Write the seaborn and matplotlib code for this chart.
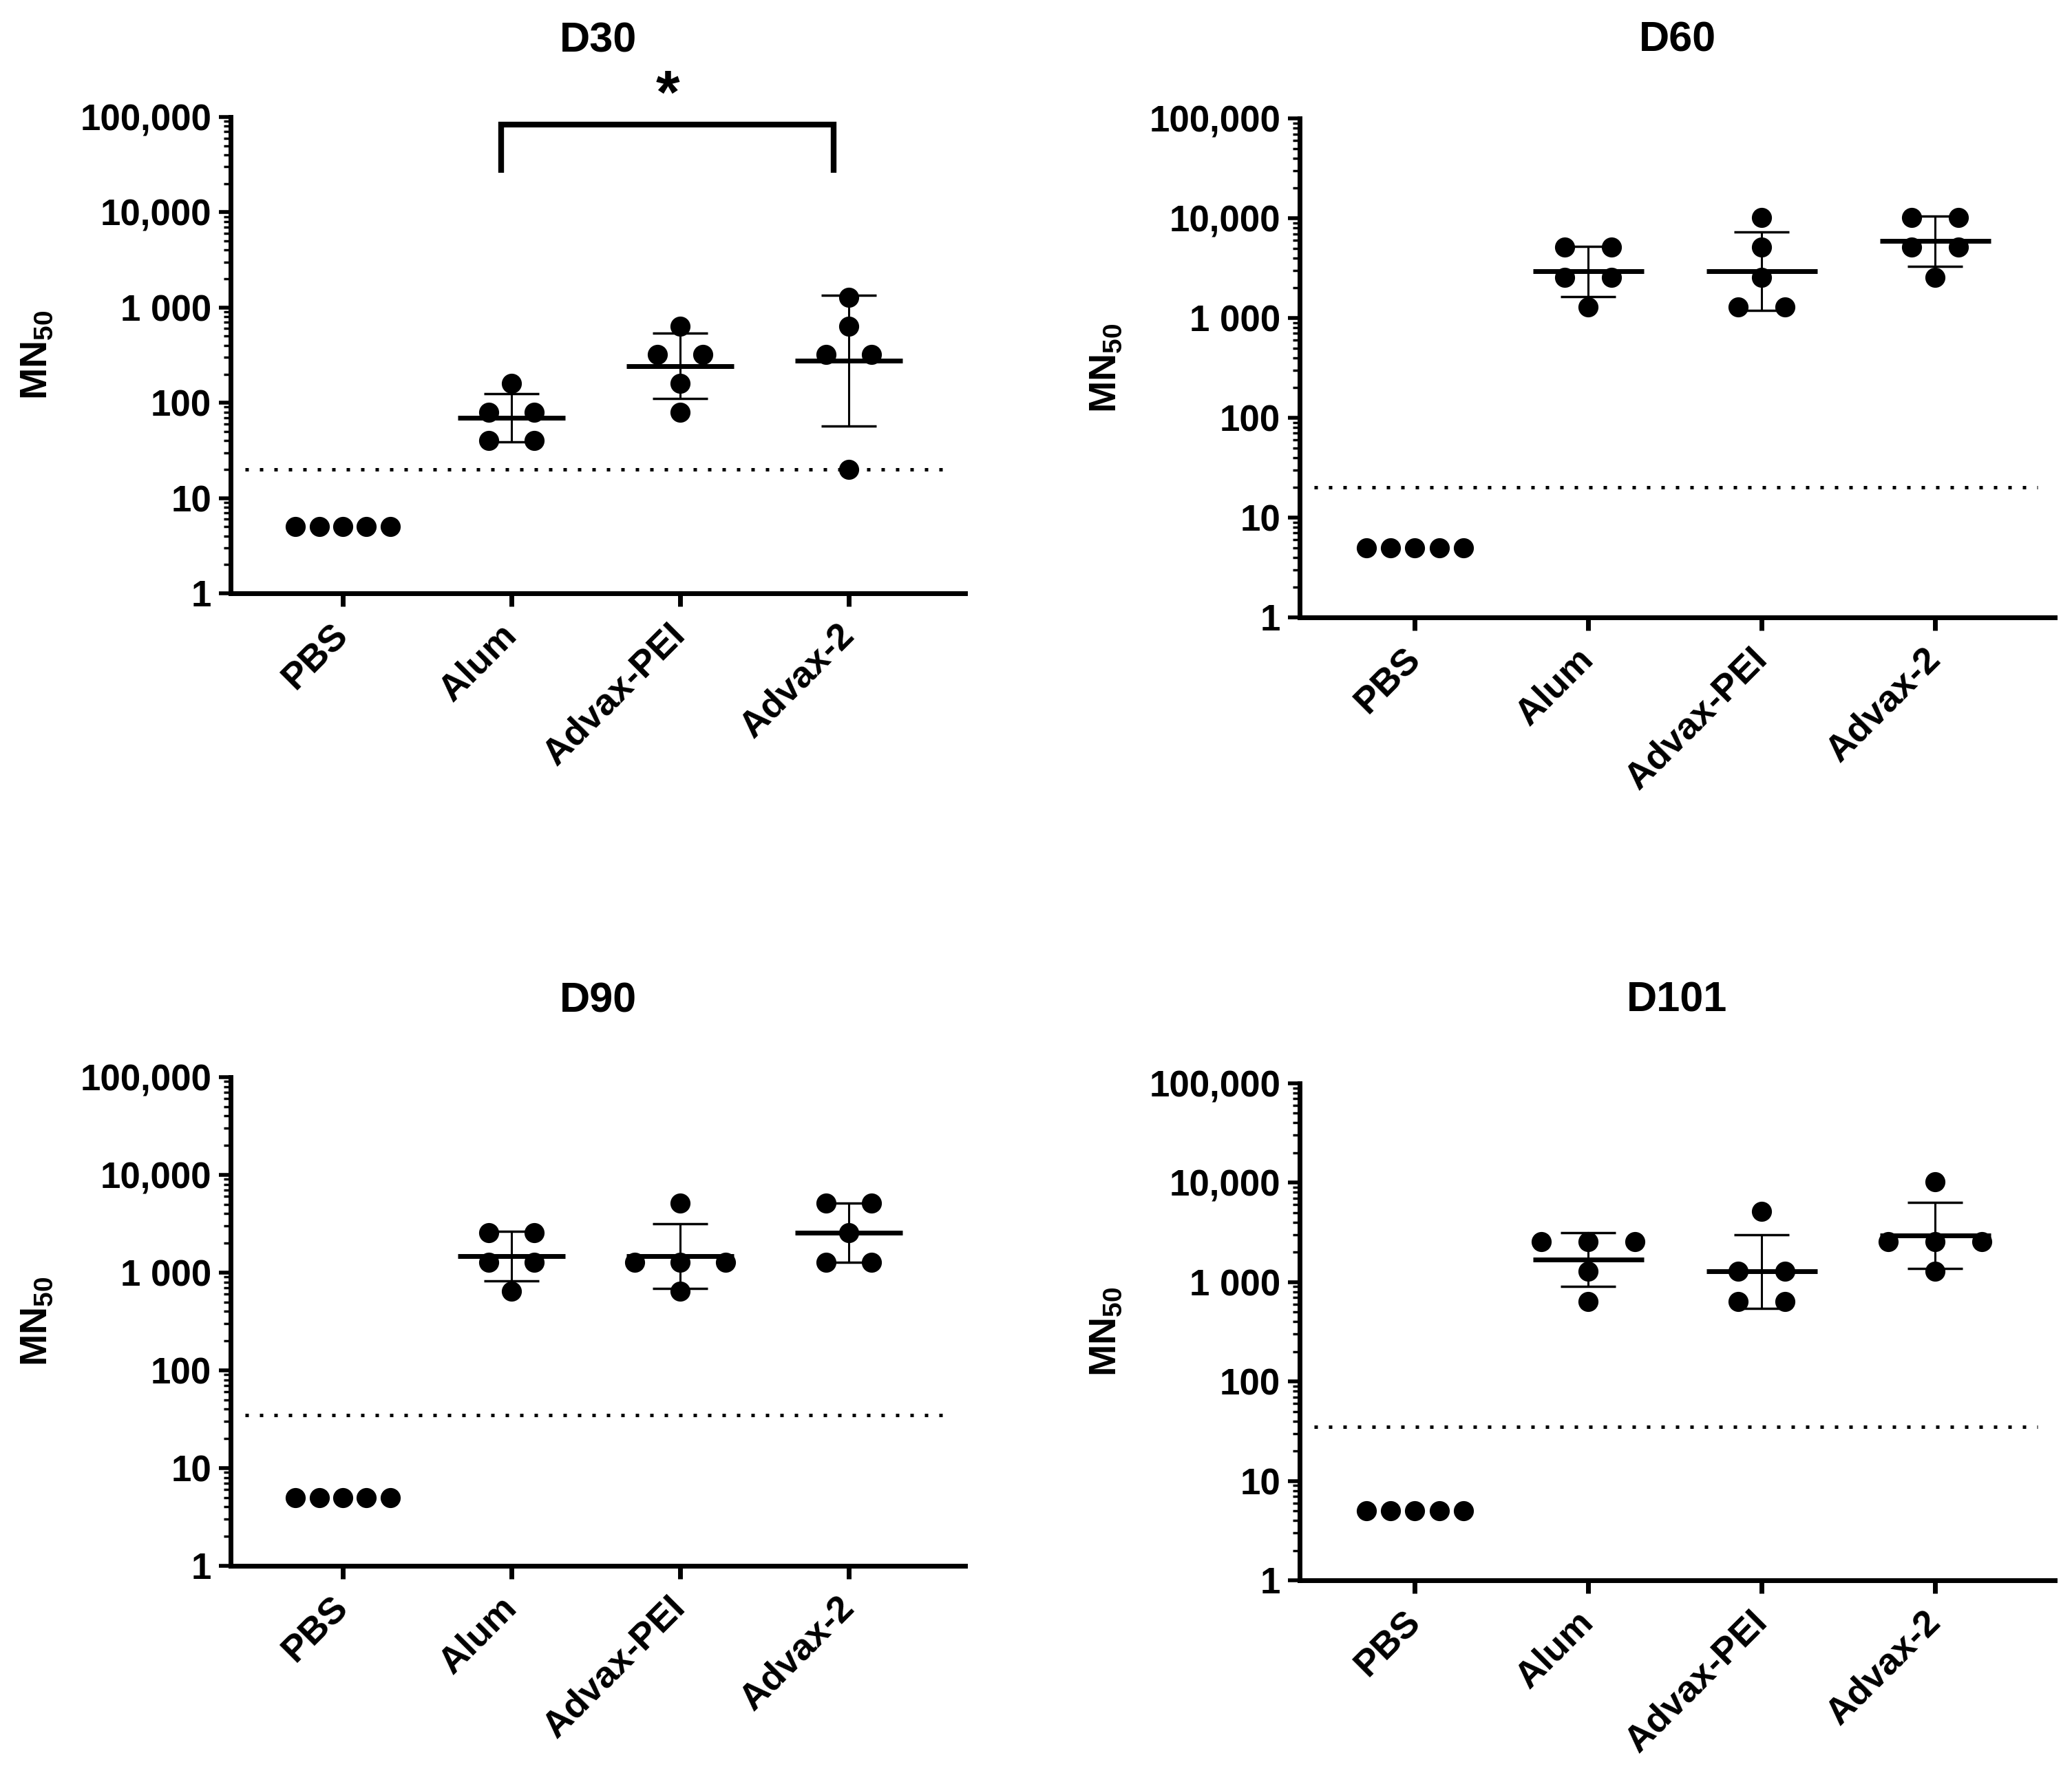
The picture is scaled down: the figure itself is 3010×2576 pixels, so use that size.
import numpy as np
import pandas as pd
import matplotlib.pyplot as plt
import seaborn as sns
from matplotlib.ticker import LogLocator, NullFormatter

# MN50 titres per mouse (2-fold dilution steps, 5 = below detection)
groups = ["PBS", "Alum", "Advax-PEI", "Advax-2"]
panel_names = ["D30", "D60", "D90", "D101"]

d30_pbs = [5, 5, 5, 5, 5]
d30_alum = [160, 80, 80, 40, 40]
d30_pei = [640, 320, 320, 160, 80]
d30_adv2 = [1280, 640, 320, 320, 20]

d60_pbs = [5, 5, 5, 5, 5]
d60_alum = [5120, 5120, 2560, 2560, 1280]
d60_pei = [10240, 5120, 2560, 1280, 1280]
d60_adv2 = [10240, 10240, 5120, 5120, 2560]

d90_pbs = [5, 5, 5, 5, 5]
d90_alum = [2560, 2560, 1280, 1280, 640]
d90_pei = [5120, 1280, 1280, 1280, 640]
d90_adv2 = [5120, 5120, 2560, 1280, 1280]

d101_pbs = [5, 5, 5, 5, 5]
d101_alum = [2560, 2560, 2560, 1280, 640]
d101_pei = [5120, 1280, 1280, 640, 640]
d101_adv2 = [10240, 2560, 2560, 2560, 1280]

# limit of detection (dotted line) per panel
lod = [20, 20, 35, 35]

ytick_vals = [1, 10, 100, 1000, 10000, 100000]
ytick_labels = ["1", "10", "100", "1 000", "10,000", "100,000"]

# significance bracket on D30 (Alum vs Advax-2)
sig_text = "*"

panel_data = [
    [d30_pbs, d30_alum, d30_pei, d30_adv2],
    [d60_pbs, d60_alum, d60_pei, d60_adv2],
    [d90_pbs, d90_alum, d90_pei, d90_adv2],
    [d101_pbs, d101_alum, d101_pei, d101_adv2],
]

sns.set_theme(style="ticks")
plt.rcParams["font.family"] = ["Liberation Sans", "DejaVu Sans"]
plt.rcParams["font.weight"] = "bold"
plt.rcParams["mathtext.fontset"] = "custom"
plt.rcParams["mathtext.rm"] = "Liberation Sans"
for key in ["text.color", "axes.labelcolor", "xtick.color", "ytick.color",
            "axes.edgecolor"]:
    plt.rcParams[key] = "black"

W, H = 3010, 2576
fig = plt.figure(figsize=(W / 100, H / 100), dpi=100)

# [left, bottom, width, height] in figure fraction
boxes = [
    [0.1113, 0.6654, 0.4658 - 0.1113, 0.9340 - 0.6654],
    [0.6272, 0.6518, 0.9917 - 0.6272, 0.9332 - 0.6518],
    [0.1113, 0.1169, 0.4658 - 0.1113, 0.3925 - 0.1169],
    [0.6272, 0.1087, 0.9917 - 0.6272, 0.3890 - 0.1087],
]
title_pads = [68, 70, 68, 75]


def spread(vals, step=0.27, width=0.56):
    # GraphPad-like scatter: equal values are laid side by side
    vals = np.asarray(vals, float)
    off = np.zeros(len(vals))
    for v in np.unique(vals):
        idx = np.where(vals == v)[0]
        n = len(idx)
        if n > 1:
            d = min(step, width / (n - 1))
            off[idx] = (np.arange(n) - (n - 1) / 2) * d
    return off


for k, name in enumerate(panel_names):
    ax = fig.add_axes(boxes[k])
    ax.set_yscale("log")

    rows = []
    for i, (g, vals) in enumerate(zip(groups, panel_data[k])):
        xs = i + spread(vals)
        for x, v in zip(xs, vals):
            rows.append({"group": g, "x": x, "value": v})
    df = pd.DataFrame(rows)

    ax.hlines(lod[k], -0.58, 3.59, colors="black", linewidth=3.6,
              linestyles=[(0, (1, 3.2))], zorder=1)

    sns.scatterplot(data=df, x="x", y="value", color="black", s=441,
                    linewidth=0, ax=ax, zorder=3, legend=False)

    # geometric mean +/- geometric SD
    for i, vals in enumerate(panel_data[k]):
        logs = np.log10(vals)
        m = logs.mean()
        sd = logs.std(ddof=1)
        if sd == 0:
            continue
        gm = 10 ** m
        ax.hlines(gm, i - 0.32, i + 0.32, colors="black", linewidth=5, zorder=4)
        ax.errorbar(i, gm, yerr=[[gm - 10 ** (m - sd)], [10 ** (m + sd) - gm]],
                    fmt="none", ecolor="black", elinewidth=2.2, capsize=29,
                    capthick=2.5, zorder=4)

    ax.set_ylim(1, 1e5)
    ax.set_xlim(-0.665, 3.69)
    ax.set_yticks(ytick_vals)
    ax.set_yticklabels(ytick_labels)
    ax.yaxis.set_minor_locator(LogLocator(base=10, subs=np.arange(2, 10)))
    ax.yaxis.set_minor_formatter(NullFormatter())
    ax.set_xticks(range(len(groups)))
    ax.set_xticklabels(groups, rotation=45, ha="right", va="center",
                       rotation_mode="anchor", fontsize=39, fontweight="bold")
    for lab in ax.get_yticklabels():
        lab.set_fontsize(38)
        lab.set_fontweight("bold")

    ax.tick_params(axis="y", which="major", length=12, width=4, pad=8,
                   color="black", labelcolor="black")
    ax.tick_params(axis="y", which="minor", length=7, width=2.5, color="black")
    ax.tick_params(axis="x", which="major", length=14, width=5, pad=24,
                   color="black", labelcolor="black")
    ax.tick_params(axis="x", which="minor", bottom=False)

    sns.despine(ax=ax)
    for sp in ["left", "bottom"]:
        ax.spines[sp].set_linewidth(5)
        ax.spines[sp].set_color("black")

    ax.set_xlabel("")
    ax.set_ylabel(r"MN$_{\mathrm{50}}$", fontsize=40, fontweight="bold",
                  color="black")
    ax_w_px = boxes[k][2] * W
    ax.yaxis.set_label_coords(-255 / ax_w_px, 0.5)

    ax.set_title(name, fontsize=44, fontweight="bold", pad=title_pads[k],
                 color="black")

    if name == "D30":
        a, b = groups.index("Alum"), groups.index("Advax-2")
        ax.plot([a - 0.06, a - 0.06, b - 0.09, b - 0.09],
                [2.6e4, 8.3e4, 8.3e4, 2.6e4], color="black", lw=6,
                clip_on=False, solid_joinstyle="miter", solid_capstyle="butt")
        ax.text((a + b) / 2 - 0.075, 1.1e5, sig_text, ha="center",
                va="baseline", fontsize=64, fontweight="bold", color="black",
                clip_on=False)

fig.savefig("out.png", dpi=100, facecolor="white")
plt.close(fig)
